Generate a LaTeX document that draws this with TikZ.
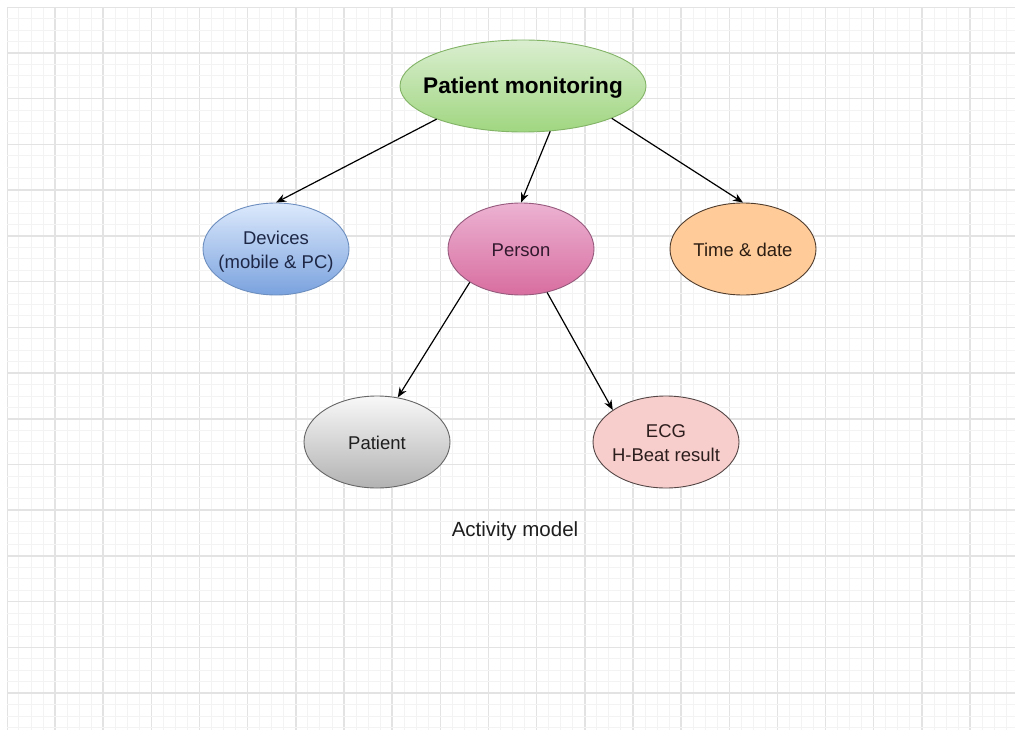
\documentclass[tikz,border=0pt]{standalone}
\usepackage{fontspec}
\setmainfont{Liberation Sans}
\usetikzlibrary{shapes.geometric,arrows.meta}
\definecolor{gminor}{HTML}{F3F3F3}
\definecolor{gmajor}{HTML}{E3E3E3}
\definecolor{txt}{HTML}{1E1E1E}
\definecolor{greenstroke}{HTML}{82B366}
\newcommand\ctext[1]{\makebox[0pt]{\raisebox{-2.5pt}[\height][\depth]{\begin{tabular}{@{}c@{}}#1\end{tabular}}}}
\tikzset{
  bubble/.style={ellipse, minimum width=146pt, minimum height=92pt, inner sep=0pt,
    line width=0.9pt, text=txt,
    font=\fontsize{18.5}{24}\selectfont},
  conn/.style={line width=1.2pt, draw=black, -{Stealth[length=10pt,width=8pt]}},
}
\begin{document}
\begin{tikzpicture}[x=1pt,y=-1pt]
\useasboundingbox (0,0) rectangle (1019,730);
\fill[white] (0,0) rectangle (1019,730);
% grid
\begin{scope}
\clip (7,8) rectangle (1015,730);
\foreach \k in {0,...,84}{
  \pgfmathsetmacro{\xx}{6.84+\k*12.04}
  \pgfmathtruncatemacro{\m}{mod(\k,4)}
  \ifnum\m=0
    \draw[gmajor,line width=1.5pt] (\xx,8) -- (\xx,730);
  \else
    \draw[gminor,line width=0.8pt] (\xx,8) -- (\xx,730);
  \fi
}
\foreach \k in {0,...,64}{
  \pgfmathsetmacro{\yy}{7.28+\k*11.43}
  \pgfmathtruncatemacro{\m}{mod(\k,4)}
  \ifnum\m=0
    \draw[gmajor,line width=1.5pt] (7,\yy) -- (1015,\yy);
  \else
    \draw[gminor,line width=0.8pt] (7,\yy) -- (1015,\yy);
  \fi
}
\end{scope}
% nodes
\node[bubble, minimum width=246pt, minimum height=92pt, draw=greenstroke,
  top color={rgb,255:red,218;green,238;blue,208}, bottom color={rgb,255:red,160;green,214;blue,128},
  font=\bfseries\fontsize{22.6}{26}\selectfont, text=black] (pm) at (523,86) {\ctext{Patient monitoring}};
\node[bubble, draw={rgb,255:red,108;green,142;blue,191},
  top color={rgb,255:red,220;green,233;blue,252}, bottom color={rgb,255:red,122;green,162;blue,222},
  text={rgb,255:red,30;green,40;blue,70}] (dev) at (276,249) {\ctext{Devices\\(mobile \& PC)}};
\node[bubble, draw={rgb,255:red,150;green,90;blue,125},
  top color={rgb,255:red,236;green,178;blue,210}, bottom color={rgb,255:red,216;green,110;blue,160},
  text={rgb,255:red,50;green,25;blue,45}] (per) at (521,249) {\ctext{Person}};
\node[bubble, draw={rgb,255:red,80;green,60;blue,45},
  fill={rgb,255:red,255;green,204;blue,153},
  text={rgb,255:red,45;green,30;blue,20}] (tim) at (743,249) {\ctext{Time \& date}};
\node[bubble, draw={rgb,255:red,102;green,102;blue,102},
  top color={rgb,255:red,248;green,248;blue,248}, bottom color={rgb,255:red,178;green,178;blue,178}] (pat) at (377,442) {\ctext{Patient}};
\node[bubble, draw={rgb,255:red,85;green,70;blue,70},
  fill={rgb,255:red,248;green,206;blue,204},
  text={rgb,255:red,45;green,30;blue,30}] (ecg) at (666,442) {\ctext{ECG\\H-Beat result}};
\node[text=txt, font=\fontsize{20.5}{23}\selectfont] (act) at (515,531) {Activity model};
% connectors
\draw[conn] (pm.201) -- (dev.north);
\draw[conn] (pm.-59) -- (per.north);
\draw[conn] (pm.-20) -- (tim.north);
\draw[conn] (per.213) -- (pat.65);
\draw[conn] (per.-59) -- (ecg.149);
\end{tikzpicture}
\end{document}
